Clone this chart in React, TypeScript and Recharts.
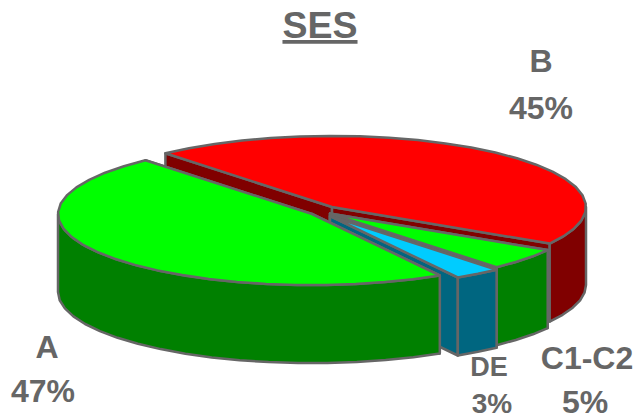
import { PieChart, Pie } from "recharts";

const names = ["B", "C1-C2", "DE", "A"];
const shares = [45, 5, 3, 47];
const topColors = ["#ff0000", "#00ff00", "#00ccff", "#00ff00"];
const sideColors = ["#800000", "#008000", "#006680", "#008000"];

const data = names.map((name, i) => ({ name, value: shares[i], top: topColors[i], side: sideColors[i] }));

const GREY = "#666666";
const FONT = "'Liberation Sans', Arial, sans-serif";
const DEPTH = 78;
const SQUASH = 0.28;

// how far each slice is pulled out of the pie
const pull: Record<string, [number, number]> = {
  B: [0, 0],
  "C1-C2": [-2, 6.5],
  DE: [-2, 9],
  A: [-20, 7],
};

const labelPos: Record<string, { x1: number; x2: number; y1: number; y2: number; size1: number; size2: number }> = {
  B: { x1: 541, x2: 541, y1: 72, y2: 119, size1: 32, size2: 32 },
  "C1-C2": { x1: 587, x2: 585, y1: 369, y2: 413, size1: 32, size2: 32 },
  DE: { x1: 489, x2: 492, y1: 376, y2: 413, size1: 27, size2: 28 },
  A: { x1: 47, x2: 43, y1: 358, y2: 402, size1: 32, size2: 32 },
};

function arcPoints(cx: number, cy: number, rx: number, ry: number, from: number, to: number) {
  const pts: [number, number][] = [];
  const steps = Math.max(1, Math.ceil(Math.abs(to - from) / 7));
  for (let i = 0; i <= steps; i++) {
    const a = ((from + ((to - from) * i) / steps) * Math.PI) / 180;
    pts.push([cx + rx * Math.cos(a), cy - ry * Math.sin(a)]);
  }
  return pts;
}

const toPath = (pts: [number, number][]) =>
  "M" + pts.map((p) => `${p[0].toFixed(1)},${p[1].toFixed(1)}`).join("L") + "Z";

// one slice: cut faces, then the outer wall, then the top
function Slice3D(props: any) {
  const { cx, cy, outerRadius, startAngle, endAngle, payload, name } = props;
  const key = payload?.name ?? name;
  const [dx, dy] = pull[key];
  const x0 = cx + dx;
  const y0 = cy + dy;
  const rx = outerRadius;
  const ry = outerRadius * SQUASH;
  const side = payload?.side ?? props.side;
  const top = payload?.top ?? props.top;

  const rim = arcPoints(x0, y0, rx, ry, startAngle, endAngle);
  const first = rim[0];
  const last = rim[rim.length - 1];
  const face = (p: [number, number]): [number, number][] => [
    [x0, y0],
    p,
    [p[0], p[1] + DEPTH],
    [x0, y0 + DEPTH],
  ];

  const hi = Math.min(startAngle, 0);
  const lo = Math.max(endAngle, -180);
  const wallTop = hi > lo ? arcPoints(x0, y0, rx, ry, hi, lo) : [];
  const wall = [...wallTop, ...[...wallTop].reverse().map((p) => [p[0], p[1] + DEPTH] as [number, number])];

  const common = { stroke: GREY, strokeWidth: 2.5, strokeLinejoin: "round" as const };
  return (
    <g>
      <path d={toPath(face(first))} fill={side} {...common} />
      <path d={toPath(face(last))} fill={side} {...common} />
      {wall.length > 0 && <path d={toPath(wall)} fill={side} {...common} />}
      <path d={toPath([[x0, y0], ...rim])} fill={top} {...common} />
    </g>
  );
}

function SliceLabel(props: any) {
  const pos = labelPos[props.name];
  const common = {
    textAnchor: "middle" as const,
    fontFamily: FONT,
    fontWeight: 700,
    fill: GREY,
  };
  return (
    <g>
      <text {...common} x={pos.x1} y={pos.y1} fontSize={pos.size1}>{props.name}</text>
      <text {...common} x={pos.x2} y={pos.y2} fontSize={pos.size2}>{props.value}%</text>
    </g>
  );
}

export default function App() {
  return (
    <div style={{ position: "absolute", left: 0, top: 0, width: 634, height: 419, background: "#fff" }}>
      <PieChart width={634} height={419} margin={{ top: 0, right: 0, bottom: 0, left: 0 }}>
        <text
          x={320}
          y={38}
          textAnchor="middle"
          fontFamily={FONT}
          fontWeight={700}
          fontSize={37.5}
          fill={GREY}
          textDecoration="underline"
        >
          SES
        </text>
        <Pie
          data={data}
          dataKey="value"
          nameKey="name"
          cx={332}
          cy={207}
          innerRadius={0}
          outerRadius={254}
          startAngle={131}
          endAngle={-229}
          stroke="none"
          shape={Slice3D}
          label={SliceLabel}
          labelLine={false}
          isAnimationActive={false}
        />
      </PieChart>
    </div>
  );
}
